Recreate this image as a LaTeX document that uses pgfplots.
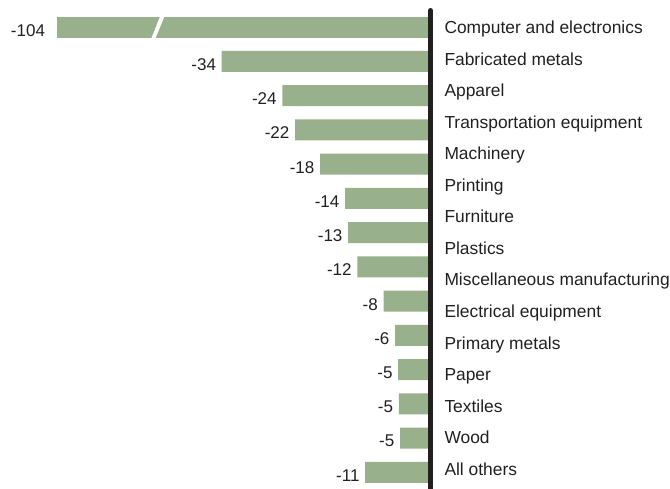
\documentclass[border=0pt]{standalone}
\usepackage{fontspec}
\setmainfont{Liberation Sans}
\usepackage{pgfplots}
\pgfplotsset{compat=1.18}
\usetikzlibrary{calc}
\definecolor{barg}{HTML}{98B08C}
\definecolor{axisk}{HTML}{231F20}
\definecolor{txt}{HTML}{231F20}
\begin{document}
\begin{tikzpicture}[font=\fontsize{17.4}{20}\selectfont]
\begin{axis}[
 x=6.1pt, y=1pt, y dir=reverse,
 xmin=-66, xmax=0, ymin=0, ymax=489,
 xbar, bar width=21pt, bar shift=0pt,
 axis x line=none, axis y line=right,
 axis line style={draw=none},
 ytick={34,65.5,97,128.5,160,191.5,223,254.5,286,317.5,349,380.5,412,443.5,475},
 yticklabels={Computer and electronics, Fabricated metals, Apparel, Transportation equipment, Machinery, Printing, Furniture, Plastics, Miscellaneous manufacturing, Electrical equipment, Primary metals, Paper, Textiles, Wood, All others},
 yticklabel style={anchor=base west, inner sep=0pt, xshift=13.8pt, text=txt},
 ytick style={draw=none},
 major tick length=0pt,
 point meta=explicit symbolic,
 nodes near coords,
 every node near coord/.append style={anchor=east, inner sep=0pt, yshift=-3pt, text=txt, font=\fontsize{17}{20}\selectfont},
 clip=false,
]
\addplot[fill=barg, draw=none, every node near coord/.append style={xshift=-11.5pt}] table[x=v, y=c, meta=l] {
v c l
-61.28 27.2 -104
};
\addplot[fill=barg, draw=none, every node near coord/.append style={xshift=-5.5pt}] table[x=v, y=c, meta=l] {
v c l
-34.23 61.45 -34
-24.3 95.7 -24
-22.2 129.95 -22
-18.1 164.2 -18
-14.0 198.45 -14
-13.5 232.7 -13
-12.0 266.95 -12
-7.7 301.2 -8
-5.8 335.45 -6
-5.3 369.7 -5
-5.2 403.95 -5
-5.0 438.2 -5
-10.7 472.45 -11
};
\fill[white] (axis cs:-45.87,40) -- (axis cs:-45.21,40) -- (axis cs:-43.44,14) -- (axis cs:-44.18,14) -- cycle;
\draw[line width=5pt, axisk, line cap=round] (axis cs:0,10.5) -- (axis cs:0,500);
\coordinate (O) at (axis cs:0,0);
\end{axis}
\pgfresetboundingbox
\path ($(O)+(-430.5pt,0pt)$) rectangle ($(O)+(239.5pt,-489pt)$);
\end{tikzpicture}
\end{document}
